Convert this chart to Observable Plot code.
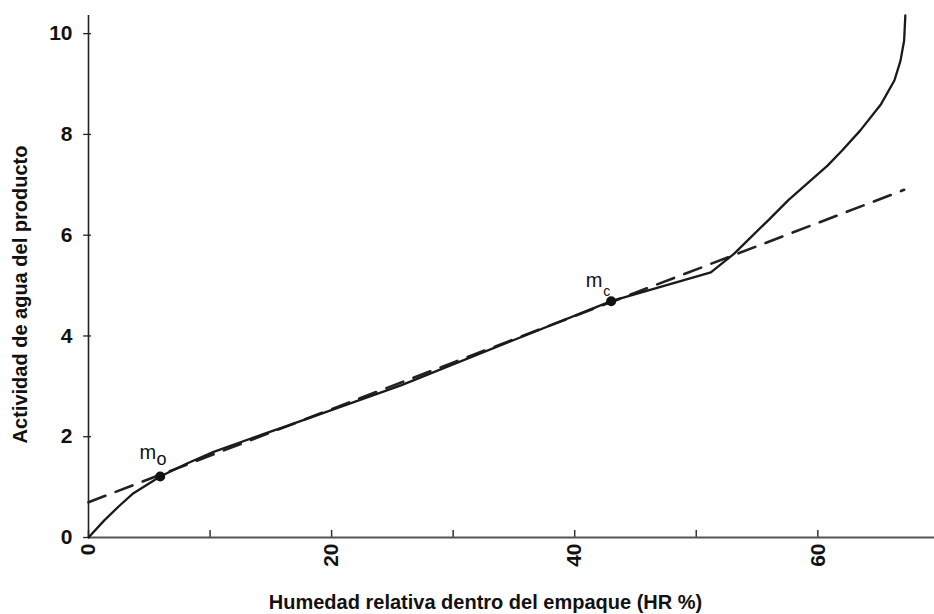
<!DOCTYPE html>
<html>
<head>
<meta charset="utf-8">
<script src="https://cdn.jsdelivr.net/npm/d3@7"></script>
<script src="https://cdn.jsdelivr.net/npm/@observablehq/plot@0.6"></script>
<style>
  html, body { margin: 0; padding: 0; background: #fff; }
  #chart svg { display: block; }
</style>
</head>
<body>
<div id="chart"></div>
<script>
// ---- data ----
const xTicks = [0, 10, 20, 30, 40, 50, 60];
const xTickLabels = [0, 20, 40, 60];
const yTicks = [0, 2, 4, 6, 8, 10];

// solid sorption curve
const curveX = [0, 1.3, 2.5, 3.7, 5.9, 8.1, 10.3, 12.5, 14.5, 16.4, 25.7, 35.0, 43.0, 51.2, 53.1, 55.9, 57.6, 60.8, 62.0, 63.5, 65.2, 66.3, 66.8, 67.1, 67.2];
const curveY = [0, 0.34, 0.62, 0.88, 1.21, 1.47, 1.70, 1.89, 2.06, 2.22, 3.02, 3.92, 4.69, 5.26, 5.63, 6.29, 6.70, 7.38, 7.68, 8.08, 8.60, 9.07, 9.46, 9.86, 10.36];

// dashed straight line
const dashX = [0, 67.1];
const dashY = [0.70, 6.90];

// marked points m_o and m_c
const pointNames = ["mo", "mc"];
const pointX = [5.9, 43.0];
const pointY = [1.21, 4.69];

// annotation labels (main letter + subscript)
const labelText = ["m", "o", "m", "c"];
const labelX = [4.2, 5.6, 40.9, 42.35];
const labelY = [1.69, 1.56, 5.09, 4.89];
const labelSize = [20, 18, 20, 14];

const xTitle = "Humedad relativa dentro del empaque (HR %)";
const yTitle = "Actividad de agua del producto";

// ---- build tables ----
const curve = curveX.map((x, i) => ({x, y: curveY[i]}));
const dashed = dashX.map((x, i) => ({x, y: dashY[i]}));
const points = pointNames.map((n, i) => ({n, x: pointX[i], y: pointY[i]}));
const labels = labelText.map((t, i) => ({t, x: labelX[i], y: labelY[i], s: labelSize[i]}));

const chart = Plot.plot({
  width: 934,
  height: 614,
  marginLeft: 88,
  marginRight: 0,
  marginTop: 15,
  marginBottom: 77,
  x: {domain: [0, 69.6]},
  y: {domain: [0, 10.36]},
  style: {fontFamily: "'Liberation Sans', Arial, sans-serif", background: "#fff", color: "#111"},
  marks: [
    Plot.axisX(xTickLabels, {tickSize: 0, tickPadding: 6, tickRotate: -90, tickFormat: d3.format("d"), fontSize: 21, fontWeight: "bold", label: null, fill: "#111"}),
    Plot.axisY(yTicks, {tickSize: 0, tickPadding: 16, tickFormat: d3.format("d"), fontSize: 21, fontWeight: "bold", label: null, fill: "#111"}),
    Plot.ruleX(xTicks, {x: d => d, y1: 0, y2: 0.14, stroke: "#333", strokeWidth: 1.5}),
    Plot.ruleY(yTicks, {y: d => d, x1: -0.4, x2: 0.25, stroke: "#222", strokeWidth: 1.3}),
    Plot.ruleY([0], {stroke: "#555", strokeWidth: 2}),
    Plot.ruleX([0], {stroke: "#222", strokeWidth: 1.6}),
    Plot.line(dashed, {x: "x", y: "y", stroke: "#222", strokeWidth: 2.6, strokeDasharray: "18,11"}),
    Plot.line(curve, {x: "x", y: "y", stroke: "#1a1a1a", strokeWidth: 2.3}),
    Plot.dot(points, {x: "x", y: "y", r: 5, fill: "#111", stroke: "none"}),
    Plot.text(labels, {x: "x", y: "y", text: "t", fontSize: d => d.s, textAnchor: "start", fill: "#111", fontWeight: "normal"}),
    Plot.text([yTitle], {text: d => d, frameAnchor: "left", textAnchor: "middle", lineAnchor: "middle", rotate: -90, dx: -68, dy: 18, fontSize: 20, fontWeight: "bold", fill: "#111"}),
    Plot.text([xTitle], {text: d => d, frameAnchor: "bottom", textAnchor: "middle", lineAnchor: "middle", dx: -26, dy: 65, fontSize: 20, fontWeight: "bold", fill: "#111"})
  ]
});
document.getElementById("chart").appendChild(chart);
</script>
</body>
</html>
